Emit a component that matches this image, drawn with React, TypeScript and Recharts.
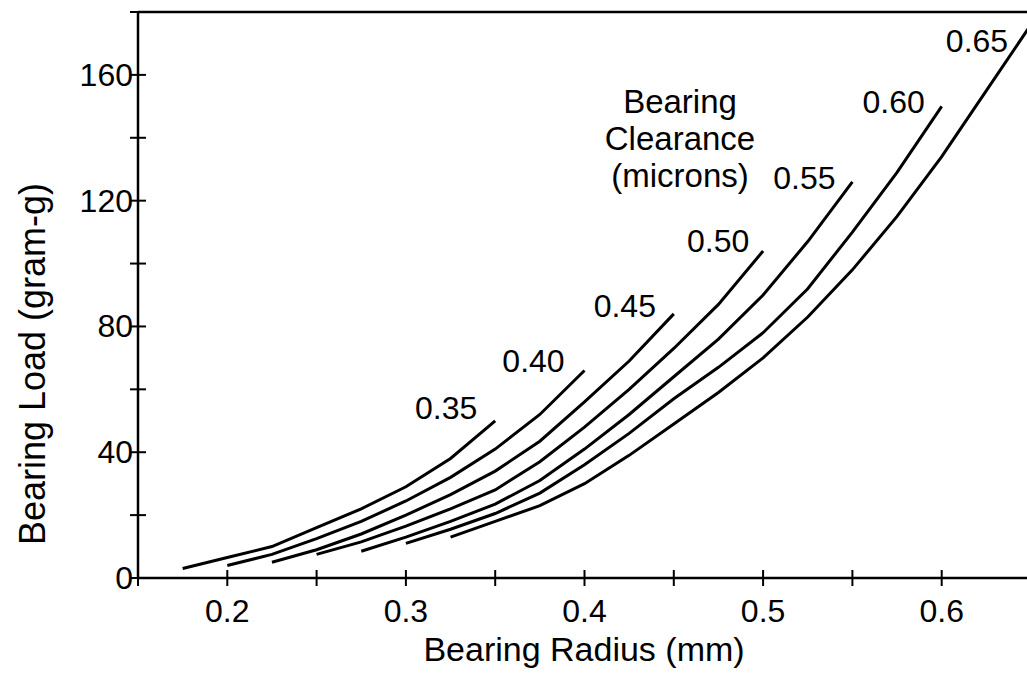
import { Label, LabelList, Line, LineChart, ReferenceLine, XAxis, YAxis } from "recharts";

const FONT = '"Liberation Sans", Arial, Helvetica, sans-serif';

// bearing radius grid (mm)
const radii = [
  0.175, 0.2, 0.225, 0.25, 0.275, 0.3, 0.325, 0.35, 0.375, 0.4,
  0.425, 0.45, 0.475, 0.5, 0.525, 0.55, 0.575, 0.6, 0.625, 0.65,
];

// bearing clearance (microns) for each curve, and the radius where it starts
const clearances = ["0.35", "0.40", "0.45", "0.50", "0.55", "0.60", "0.65"];
const firstRadius = [0.175, 0.2, 0.225, 0.25, 0.275, 0.3, 0.325];

// bearing load (gram-g)
const load035 = [3, 6.5, 10, 16, 22, 29, 38, 50];
const load040 = [4, 7.5, 12.5, 18, 24.5, 32, 41, 52, 66];
const load045 = [5, 9, 14, 20, 26.5, 34, 43.5, 56, 69, 84];
const load050 = [7.5, 11.5, 16.5, 22, 28, 37, 48, 60, 73, 87, 104];
const load055 = [8.5, 13, 18, 23.5, 31, 41, 52, 64, 76, 90, 107, 126];
const load060 = [11, 15.5, 20.5, 27, 36, 46, 57, 67, 78, 92, 110, 129, 150];
const load065 = [13, 18, 23, 30, 39, 49, 59, 70, 83, 98, 115, 134, 155, 176];
const loads = [load035, load040, load045, load050, load055, load060, load065];

const xTicks = [0.15, 0.2, 0.25, 0.3, 0.35, 0.4, 0.45, 0.5, 0.55, 0.6, 0.65];
const yTicks = [0, 20, 40, 60, 80, 100, 120, 140, 160, 180];
const yLabelled = [0, 40, 80, 120, 160];

// where each curve's name sits, relative to the curve's end
const labelDx = [-49, -51, -49, -45, -48, -48, -54];
const labelDy = [-2, 2, 3, 1, 7, 7, 27];

const keyOf = (c: string) => "c" + c.replace(".", "");

const rows = radii.map((r, i) => {
  const row: Record<string, number | null> = { r };
  clearances.forEach((c, s) => {
    const start = radii.indexOf(firstRadius[s]);
    const v = loads[s][i - start];
    row[keyOf(c)] = v === undefined ? null : v;
  });
  return row;
});

function XTick({ x, y, payload }: any) {
  const v = payload.value as number;
  const major = Math.round(v * 100) % 10 === 0;
  return (
    <g>
      <line x1={x} x2={x} y1={y - 8} y2={y + 8} stroke="#000" strokeWidth={2} />
      {major && (
        <text x={x} y={y + 44} textAnchor="middle" fontSize={32} fontFamily={FONT} fill="#000">
          {v.toFixed(1)}
        </text>
      )}
    </g>
  );
}

function YTick({ x, y, payload }: any) {
  const v = payload.value as number;
  return (
    <g>
      <line x1={x - 8} x2={x + 8} y1={y} y2={y} stroke="#000" strokeWidth={2} />
      {yLabelled.includes(v) && (
        <text x={x - 5} y={y + 11} textAnchor="end" fontSize={32} fontFamily={FONT} fill="#000">
          {v}
        </text>
      )}
    </g>
  );
}

function endLabel(name: string, last: number, dx: number, dy: number) {
  return (props: any) => {
    if (props.index !== last) return null;
    return (
      <text
        x={props.x + dx}
        y={props.y + dy}
        textAnchor="middle"
        fontSize={32}
        fontFamily={FONT}
        fill="#000"
      >
        {name}
      </text>
    );
  };
}

export default function App() {
  return (
    <div
      style={{
        position: "absolute",
        left: 0,
        top: 0,
        width: 1027,
        height: 684,
        overflow: "hidden",
        background: "#fff",
        fontFamily: FONT,
      }}
    >
      <LineChart width={1045} height={684} data={rows} margin={{ top: 12, right: 14, bottom: 0, left: 0 }}>
        <XAxis
          dataKey="r"
          type="number"
          domain={[0.15, 0.65]}
          ticks={xTicks}
          interval={0}
          height={106}
          tickSize={0}
          tickMargin={0}
          tickLine={false}
          axisLine={{ stroke: "#000", strokeWidth: 2.5 }}
          tick={<XTick />}
        >
          <Label
            content={() => (
              <text x={584} y={661} textAnchor="middle" fontSize={34} fontFamily={FONT} fill="#000">
                Bearing Radius (mm)
              </text>
            )}
          />
        </XAxis>
        <YAxis
          type="number"
          domain={[0, 180]}
          ticks={yTicks}
          interval={0}
          width={138}
          tickSize={0}
          tickMargin={0}
          tickLine={false}
          axisLine={{ stroke: "#000", strokeWidth: 2.5 }}
          tick={<YTick />}
        >
          <Label
            content={() => (
              <text
                x={45}
                y={364}
                transform="rotate(-90, 45, 364)"
                textAnchor="middle"
                fontSize={36}
                fontFamily={FONT}
                fill="#000"
              >
                Bearing Load (gram-g)
              </text>
            )}
          />
        </YAxis>
        <ReferenceLine y={180} stroke="#000" strokeWidth={2.5} />
        {clearances.map((c, s) => {
          const last = radii.indexOf(firstRadius[s]) + loads[s].length - 1;
          return (
            <Line
              key={c}
              dataKey={keyOf(c)}
              type="linear"
              stroke="#000"
              strokeWidth={3}
              dot={false}
              activeDot={false}
              isAnimationActive={false}
            >
              <LabelList dataKey={keyOf(c)} content={endLabel(c, last, labelDx[s], labelDy[s])} />
            </Line>
          );
        })}
      </LineChart>
      <div
        style={{
          position: "absolute",
          left: 580,
          top: 83,
          width: 200,
          textAlign: "center",
          fontSize: 33,
          lineHeight: "37px",
          color: "#000",
        }}
      >
        Bearing
        <br />
        Clearance
        <br />
        (microns)
      </div>
    </div>
  );
}
